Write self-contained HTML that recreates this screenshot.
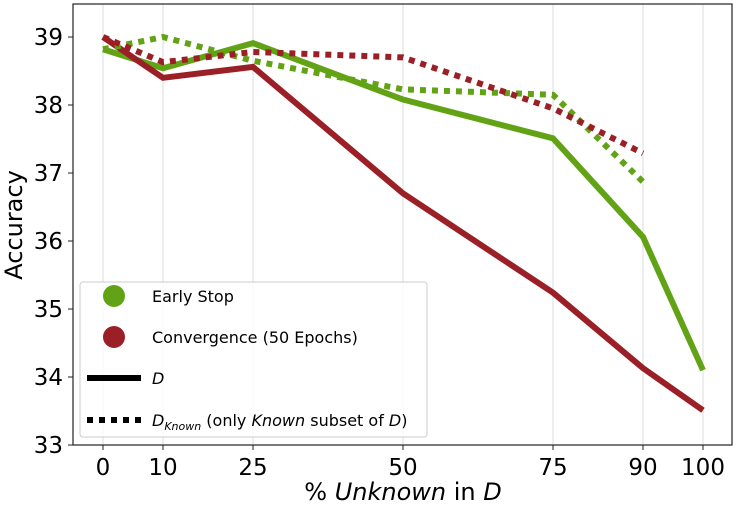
<!DOCTYPE html>
<html><head><meta charset="utf-8"><style>
body{margin:0;background:#fff;}
svg text{font-family:"DejaVu Sans","Liberation Sans",sans-serif;fill:#000;}
</style></head><body>
<svg id="chart" width="736" height="508" viewBox="0 0 736 508">
<g id="grid"></g>
<g id="series"></g>
<rect x="73" y="4" width="659" height="441" fill="none" stroke="#222" stroke-width="1.2"/>
<g id="ticks"></g>
<text transform="translate(22,225) rotate(-90)" text-anchor="middle" font-size="24">Accuracy</text>
<text x="403" y="500" text-anchor="middle" font-size="24">% <tspan font-style="italic">Unknown</tspan> in <tspan font-style="italic">D</tspan></text>
<g>
<rect x="80" y="282" width="347" height="155" rx="3" fill="#fff" fill-opacity="0.85" stroke="#ccc"/>
<circle cx="114" cy="296" r="11" fill="#62a315"/>
<text x="152" y="302" font-size="16">Early Stop</text>
<circle cx="114" cy="337" r="11" fill="#9b1f26"/>
<text x="152" y="343" font-size="16">Convergence (50 Epochs)</text>
<line x1="87" y1="378" x2="141" y2="378" stroke="#000" stroke-width="6"/>
<text x="152" y="384" font-size="16" font-style="italic">D</text>
<line x1="87" y1="420" x2="141" y2="420" stroke="#000" stroke-width="6" stroke-dasharray="6,6"/>
<text x="152" y="426" font-size="16"><tspan font-style="italic">D</tspan><tspan font-style="italic" font-size="11" dy="4">Known</tspan><tspan dy="-4"> (only </tspan><tspan font-style="italic">Known</tspan> subset of <tspan font-style="italic">D</tspan>)</text>
</g>
</svg>
<script>
const categories=[0,10,25,50,75,90,100];
const earlyStopD=[38.82,38.54,38.91,38.08,37.51,36.06,34.1];
const convergenceD=[39.0,38.4,38.56,36.7,35.24,34.13,33.51];
const earlyStopKnown=[38.82,39.0,38.65,38.23,38.15,36.87];
const convergenceKnown=[39.0,38.63,38.78,38.7,37.95,37.29];
const yTicks=[33,34,35,36,37,38,39];
const NS="http://www.w3.org/2000/svg";
const xs=v=>103+v*6;
const ys=v=>445-(v-33)*68;
const grid=document.getElementById('grid'),ticks=document.getElementById('ticks'),ser=document.getElementById('series');
categories.forEach(c=>{
 const l=document.createElementNS(NS,'line');
 l.setAttribute('x1',xs(c));l.setAttribute('x2',xs(c));l.setAttribute('y1',4);l.setAttribute('y2',445);
 l.setAttribute('stroke','#ddd');l.setAttribute('stroke-width','1');
 
 
 grid.appendChild(l);
 const t=document.createElementNS(NS,'line');
 t.setAttribute('x1',xs(c));t.setAttribute('x2',xs(c));t.setAttribute('y1',445);t.setAttribute('y2',450);t.setAttribute('stroke','#222');
 
 
 ticks.appendChild(t);
 const tx=document.createElementNS(NS,'text');
 tx.setAttribute('x',xs(c));tx.setAttribute('y',475);tx.setAttribute('text-anchor','middle');tx.setAttribute('font-size','23');
 tx.textContent=c;
 
 
 ticks.appendChild(tx);
});
yTicks.forEach(v=>{
 const t=document.createElementNS(NS,'line');
 t.setAttribute('x1',68);t.setAttribute('x2',73);t.setAttribute('y1',ys(v));t.setAttribute('y2',ys(v));t.setAttribute('stroke','#222');
 
 
 ticks.appendChild(t);
 const tx=document.createElementNS(NS,'text');
 tx.setAttribute('x',63);tx.setAttribute('y',ys(v)+8);tx.setAttribute('text-anchor','end');tx.setAttribute('font-size','23');
 tx.textContent=v;
 
 
 ticks.appendChild(tx);
});
function line(vals,color,dashed,name){
 const p=document.createElementNS(NS,'polyline');
 p.setAttribute('points',vals.map((v,i)=>xs(categories[i])+','+ys(v)).join(' '));
 p.setAttribute('fill','none');p.setAttribute('stroke',color);p.setAttribute('stroke-width','6');
 if(dashed)p.setAttribute('stroke-dasharray','6,6');
 
 
 ser.appendChild(p);
}
line(earlyStopD,'#62a315',false,'early-stop-d-line');
line(convergenceD,'#9b1f26',false,'convergence-d-line');
line(earlyStopKnown,'#62a315',true,'early-stop-known-line');
line(convergenceKnown,'#9b1f26',true,'convergence-known-line');
</script>
</body></html>
